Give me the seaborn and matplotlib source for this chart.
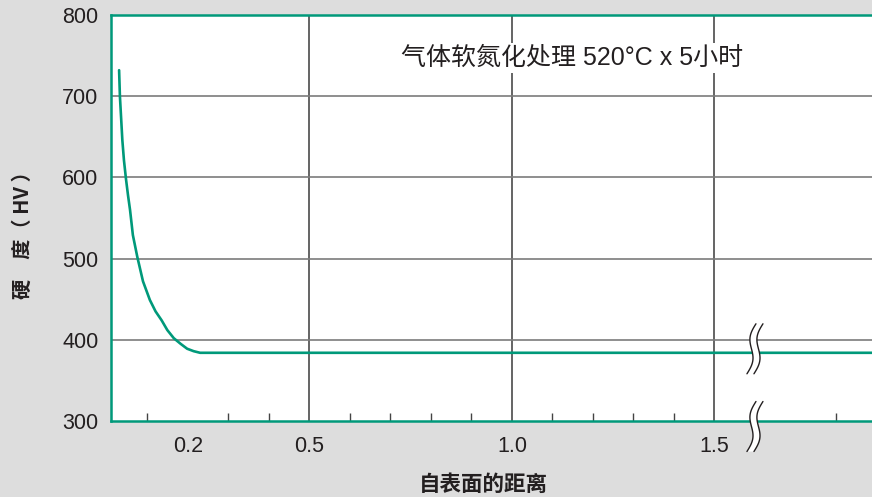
import numpy as np
import pandas as pd
import matplotlib
matplotlib.use("Agg")
import matplotlib.pyplot as plt
from matplotlib.transforms import ScaledTranslation
import seaborn as sns

# Hardness profile after gas soft nitriding (520 °C x 5 h)
depth_mm = [0.030, 0.032, 0.035, 0.038, 0.042, 0.047, 0.052, 0.057, 0.064, 0.075,
            0.089, 0.106, 0.120, 0.135, 0.149, 0.165, 0.182, 0.198, 0.214, 0.230, 1.890]
hardness_hv = [732, 700, 673, 646, 621, 598, 578, 560, 529, 502,
               472, 449, 435, 424, 412, 402, 395, 389, 386, 384, 384]

x_major_ticks = [0.2, 0.5, 1.0, 1.5]
x_major_labels = ["0.2", "0.5", "1.0", "1.5"]
x_minor_ticks = [0.1, 0.2, 0.3, 0.4, 0.6, 0.7, 0.8, 0.9, 1.1, 1.2, 1.3, 1.4, 1.8]
y_ticks = [300, 400, 500, 600, 700, 800]
grid_x = [0.5, 1.0, 1.5]
grid_y = [400, 500, 600, 700]
x_break = 1.6

title_text = "气体软氮化处理 520°C x 5小时"
x_label = "自表面的距离"
y_label = "硬\u3000度（ HV ）"

GREEN = "#00997a"
BG = "#dddddd"
INK = "#231f20"

sns.set_style("white")
plt.rcParams["font.family"] = ["Liberation Sans", "Noto Sans CJK SC", "DejaVu Sans"]

W, H, DPI = 872, 497, 100
fig = plt.figure(figsize=(W / DPI, H / DPI), dpi=DPI, facecolor=BG)
ax = fig.add_axes([111 / W, (H - 421) / H, (W - 111) / W, 406 / H])
ax.set_facecolor("white")

ax.set_xlim(0.01, 1.889)
ax.set_ylim(300, 800)

for gx in grid_x:
    ax.axvline(gx, color="#4a4a4a", lw=1.2, zorder=1)
for gy in grid_y:
    ax.axhline(gy, color="#7c7c7c", lw=1.2, zorder=1)

df = pd.DataFrame({"depth": depth_mm, "hv": hardness_hv})
sns.lineplot(data=df, x="depth", y="hv", ax=ax, color=GREEN, lw=1.9,
             sort=False, estimator=None, zorder=3)
for ln in ax.lines:
    ln.set_solid_joinstyle("round")

ax.set_xticks(x_major_ticks)
ax.set_xticklabels(x_major_labels)
ax.set_xticks(x_minor_ticks, minor=True)
ax.set_yticks(y_ticks)
ax.set_yticklabels([str(v) for v in y_ticks])
ax.tick_params(axis="x", which="major", length=0, pad=11, labelsize=15.5, labelcolor=INK)
ax.tick_params(axis="x", which="minor", direction="in", length=5.5, width=1.0,
               color="#444444", bottom=True)
ax.tick_params(axis="y", length=0, pad=9, labelsize=15.5, labelcolor=INK)

for side in ("left", "bottom", "top"):
    ax.spines[side].set_color(GREEN)
    ax.spines[side].set_linewidth(1.8)
    ax.spines[side].set_zorder(4)
ax.spines["right"].set_visible(False)

ax.set_xlabel(x_label, fontsize=15.5, fontweight="bold", color=INK,
              family=["Noto Sans CJK SC", "DejaVu Sans"])
ax.xaxis.set_label_coords(0.489, -0.157)
ax.xaxis.label.set_va("center")
ax.set_ylabel(y_label, fontsize=14.5, fontweight="bold", color=INK,
              family=["Noto Sans CJK SC", "DejaVu Sans"])
ax.yaxis.set_label_coords(-0.117, 0.47)
ax.yaxis.label.set_va("center")

ax.text(0.606, 0.894, title_text, transform=ax.transAxes, ha="center", va="center",
        fontsize=18, color=INK, zorder=5,
        family=["Liberation Sans", "Noto Sans CJK SC"],
        bbox=dict(facecolor="white", edgecolor="none", pad=2))


def draw_break(ax, xd, yd, dy_px, h_px=50, slant=9, amp=3.5, gap=7, clip=True):
    """Wavy double-line axis break centred on a data point, sized in pixels."""
    fig = ax.figure
    trans = fig.dpi_scale_trans + ScaledTranslation(xd, yd, ax.transData)
    t = np.linspace(0, 1, 80)
    y = (h_px * (0.5 - t) + dy_px) / DPI
    xc = (slant * (0.5 - t) - amp * np.sin(2 * np.pi * t)) / DPI
    xl = xc - gap / 2 / DPI
    xr = xc + gap / 2 / DPI
    poly_x = np.concatenate([xl, xr[::-1]])
    poly_y = np.concatenate([y, y[::-1]])
    ax.fill(poly_x, poly_y, color="white", transform=trans, zorder=6, clip_on=clip, lw=0)
    for xx in (xl, xr):
        ax.plot(xx, y, color=INK, lw=1.0, transform=trans, zorder=7, clip_on=clip)


draw_break(ax, x_break, hardness_hv[-1], dy_px=4)
draw_break(ax, x_break, 300, dy_px=-5.5, clip=False)

fig.savefig("out.png", dpi=DPI, facecolor=BG)
